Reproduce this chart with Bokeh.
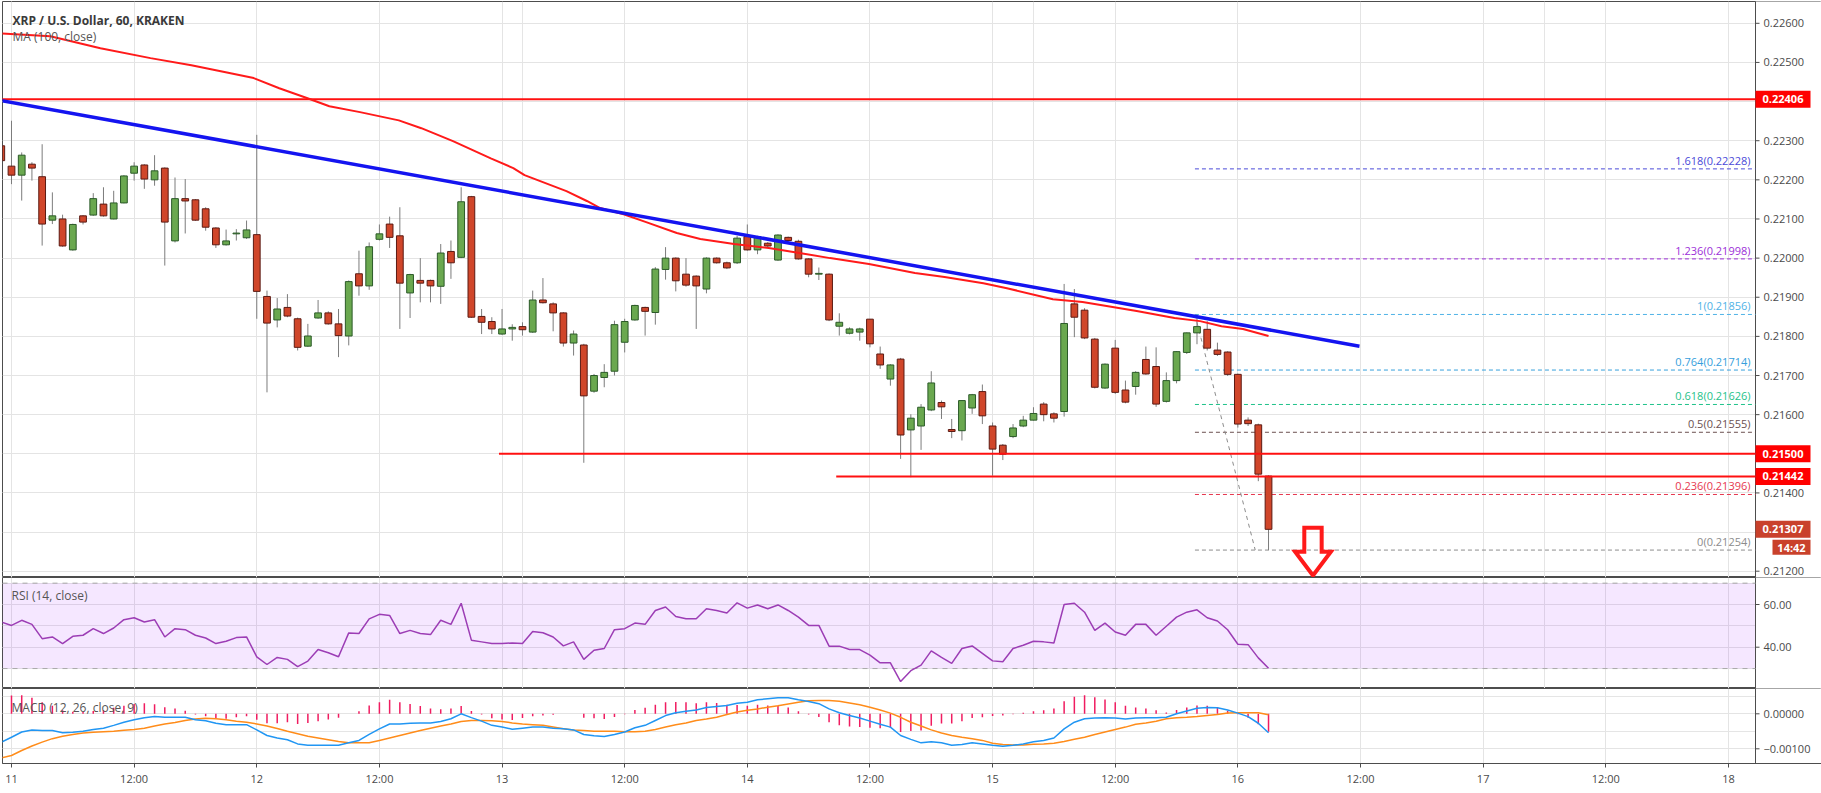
from bokeh.plotting import figure
from bokeh.models import (Range1d, FixedTicker, Grid, BoxAnnotation, ColumnDataSource)
from bokeh.layouts import column
from bokeh.embed import file_html
from bokeh.resources import INLINE
from bokeh.core.properties import value

# ---------------- data (hour index 0 = day 11 00:00, 60-minute candles) ----------------
HOURS = list(range(-1, 124))
OPEN = [0.22287, 0.22235, 0.22212, 0.22240, 0.22208, 0.22097, 0.22100, 0.22021, 0.22108, 0.22110,
        0.22138, 0.22100, 0.22141, 0.22217, 0.22238, 0.22200, 0.22230, 0.22044, 0.22152, 0.22149,
        0.22126, 0.22077, 0.22034, 0.22062, 0.22052, 0.22060, 0.21902, 0.21842, 0.21874, 0.21845,
        0.21775, 0.21847, 0.21860, 0.21832, 0.21801, 0.21960, 0.21929, 0.22048, 0.22087, 0.22057,
        0.21911, 0.21943, 0.21943, 0.21928, 0.22017, 0.22002, 0.22157, 0.21851, 0.21838, 0.21806,
        0.21819, 0.21825, 0.21811, 0.21893, 0.21883, 0.21860, 0.21783, 0.21778, 0.21660, 0.21695,
        0.21711, 0.21785, 0.21842, 0.21874, 0.21861, 0.21971, 0.22000, 0.21959, 0.21954, 0.21921,
        0.22000, 0.21988, 0.21988, 0.22055, 0.22021, 0.22038, 0.21995, 0.22053, 0.22043, 0.21998,
        0.21959, 0.21959, 0.21826, 0.21808, 0.21811, 0.21844, 0.21755, 0.21691, 0.21742, 0.21561,
        0.21571, 0.21612, 0.21631, 0.21562, 0.21559, 0.21617, 0.21659, 0.21571, 0.21522, 0.21544,
        0.21571, 0.21586, 0.21627, 0.21602, 0.21608, 0.21883, 0.21867, 0.21793, 0.21668, 0.21770,
        0.21663, 0.21672, 0.21741, 0.21723, 0.21634, 0.21687, 0.21759, 0.21809, 0.21818, 0.21765,
        0.21760, 0.21703, 0.21586, 0.21574, 0.21443]
HIGH = [0.22296, 0.22351, 0.22270, 0.22245, 0.22291, 0.22168, 0.22111, 0.22088, 0.22110, 0.22166,
        0.22181, 0.22172, 0.22212, 0.22245, 0.22240, 0.22263, 0.22232, 0.22206, 0.22202, 0.22151,
        0.22130, 0.22079, 0.22073, 0.22074, 0.22096, 0.22315, 0.21917, 0.21898, 0.21908, 0.21848,
        0.21832, 0.21893, 0.21864, 0.21870, 0.21943, 0.22019, 0.22040, 0.22086, 0.22106, 0.22130,
        0.21960, 0.22000, 0.21945, 0.22036, 0.22045, 0.22181, 0.22159, 0.21870, 0.21849, 0.21870,
        0.21831, 0.21836, 0.21917, 0.21949, 0.21887, 0.21862, 0.21815, 0.21781, 0.21704, 0.21729,
        0.21840, 0.21845, 0.21881, 0.21876, 0.21977, 0.22028, 0.22002, 0.22000, 0.21956, 0.22002,
        0.22002, 0.21991, 0.22057, 0.22086, 0.22057, 0.22041, 0.22061, 0.22055, 0.22047, 0.22000,
        0.21976, 0.21961, 0.21859, 0.21823, 0.21822, 0.21844, 0.21774, 0.21729, 0.21745, 0.21601,
        0.21627, 0.21711, 0.21636, 0.21589, 0.21637, 0.21653, 0.21677, 0.21580, 0.21525, 0.21576,
        0.21597, 0.21619, 0.21632, 0.21606, 0.21934, 0.21921, 0.21872, 0.21796, 0.21731, 0.21791,
        0.21687, 0.21711, 0.21774, 0.21772, 0.21708, 0.21762, 0.21810, 0.21856, 0.21839, 0.21784,
        0.21762, 0.21705, 0.21593, 0.21577, 0.21445]
LOW = [0.22245, 0.22189, 0.22147, 0.22198, 0.22032, 0.22087, 0.22029, 0.22019, 0.22086, 0.22108,
       0.22106, 0.22099, 0.22140, 0.22198, 0.22177, 0.22185, 0.21981, 0.22040, 0.22063, 0.22095,
       0.22070, 0.22026, 0.22032, 0.22045, 0.22049, 0.21845, 0.21657, 0.21823, 0.21849, 0.21764,
       0.21773, 0.21845, 0.21830, 0.21747, 0.21777, 0.21904, 0.21919, 0.22045, 0.22026, 0.21819,
       0.21847, 0.21887, 0.21887, 0.21883, 0.21947, 0.22000, 0.21847, 0.21806, 0.21806, 0.21804,
       0.21789, 0.21802, 0.21809, 0.21884, 0.21813, 0.21774, 0.21751, 0.21477, 0.21656, 0.21670,
       0.21700, 0.21759, 0.21840, 0.21802, 0.21830, 0.21945, 0.21915, 0.21927, 0.21819, 0.21910,
       0.21986, 0.21972, 0.21985, 0.22019, 0.22010, 0.22028, 0.21993, 0.22043, 0.21996, 0.21951,
       0.21944, 0.21839, 0.21802, 0.21805, 0.21789, 0.21772, 0.21717, 0.21674, 0.21487, 0.21440,
       0.21510, 0.21609, 0.21589, 0.21540, 0.21534, 0.21602, 0.21576, 0.21444, 0.21484, 0.21540,
       0.21568, 0.21585, 0.21583, 0.21580, 0.21595, 0.21798, 0.21793, 0.21667, 0.21666, 0.21653,
       0.21629, 0.21651, 0.21702, 0.21620, 0.21631, 0.21680, 0.21755, 0.21780, 0.21764, 0.21750,
       0.21699, 0.21567, 0.21571, 0.21430, 0.21254]
CLOSE = [0.22249, 0.22212, 0.22263, 0.22230, 0.22087, 0.22108, 0.22031, 0.22086, 0.22092, 0.22152,
         0.22108, 0.22141, 0.22210, 0.22235, 0.22202, 0.22223, 0.22092, 0.22152, 0.22146, 0.22097,
         0.22079, 0.22034, 0.22044, 0.22064, 0.22072, 0.21915, 0.21834, 0.21870, 0.21852, 0.21772,
         0.21801, 0.21860, 0.21832, 0.21802, 0.21940, 0.21929, 0.22029, 0.22062, 0.22053, 0.21936,
         0.21958, 0.21936, 0.21929, 0.22013, 0.21988, 0.22144, 0.21849, 0.21836, 0.21819, 0.21819,
         0.21823, 0.21817, 0.21893, 0.21886, 0.21860, 0.21783, 0.21806, 0.21648, 0.21700, 0.21708,
         0.21830, 0.21838, 0.21879, 0.21864, 0.21972, 0.22000, 0.21942, 0.21931, 0.21929, 0.22000,
         0.21988, 0.21975, 0.22051, 0.22021, 0.22055, 0.22031, 0.22059, 0.22045, 0.21998, 0.21959,
         0.21961, 0.21842, 0.21836, 0.21819, 0.21819, 0.21781, 0.21727, 0.21727, 0.21548, 0.21591,
         0.21619, 0.21681, 0.21620, 0.21557, 0.21636, 0.21651, 0.21597, 0.21512, 0.21499, 0.21566,
         0.21586, 0.21603, 0.21600, 0.21591, 0.21833, 0.21849, 0.21796, 0.21670, 0.21729, 0.21657,
         0.21632, 0.21708, 0.21704, 0.21627, 0.21687, 0.21761, 0.21809, 0.21825, 0.21770, 0.21754,
         0.21703, 0.21576, 0.21577, 0.21448, 0.21307]

MA_HOURS = [-1.08, 3.8, 8.7, 13.6, 17.6, 20.6, 23.7, 26.2, 28.9, 31.1, 34.1, 37.9, 40.1, 43.2,
            46.9, 49.1, 50.2, 54.3, 56.3, 57.6, 59.9, 62.1, 65.1, 67.4, 70.7, 74.1, 77.1, 80.1,
            83.9, 88.4, 91.3, 95.1, 97.4, 101.9, 104.8, 110.1, 113.8, 116.3, 118.4, 120.5, 123]
MA_VALUES = [0.22574, 0.22567, 0.22536, 0.22511, 0.22493, 0.22477, 0.22460, 0.22434, 0.22409,
             0.22388, 0.22373, 0.22352, 0.22332, 0.22299, 0.22255, 0.22230, 0.22212, 0.22171,
             0.22146, 0.22128, 0.22112, 0.22092, 0.22064, 0.22049, 0.22036, 0.22026, 0.22013,
             0.22000, 0.21985, 0.21962, 0.21952, 0.21936, 0.21923, 0.21895, 0.21888, 0.21865,
             0.21847, 0.21839, 0.21826, 0.21819, 0.21801]

TREND_HOURS = [-1.08, 131.9]
TREND_VALUES = [0.22403, 0.21775]

HLINE_LEVELS = [0.22406, 0.21500, 0.21442]
HLINE_START = [-1.0, 47.7, 80.7]

FIB_RATIOS = ["1.618", "1.236", "1", "0.764", "0.618", "0.5", "0.236", "0"]
FIB_LEVELS = [0.22228, 0.21998, 0.21856, 0.21714, 0.21626, 0.21555, 0.21396, 0.21254]
FIB_START = 115.8
FIB_DIAG_HOURS = [115.8, 121.7]
FIB_DIAG_VALUES = [0.21856, 0.21254]

ARROW_HOURS = [126.5, 128.2, 128.2, 129.1, 127.35, 125.6, 126.5]
ARROW_VALUES = [0.21311, 0.21311, 0.21250, 0.21250, 0.21189, 0.21250, 0.21250]

CURRENT_PRICE = 0.21307
BAR_TIME_LEFT = "14:42"

RSI = [51.8, 50.2, 52.6, 50.7, 44.0, 44.8, 41.7, 45.1, 45.6, 48.7, 46.4, 49.0, 52.9, 53.8, 51.8,
       52.9, 44.8, 48.7, 48.2, 45.6, 44.3, 41.7, 42.8, 44.5, 44.8, 35.5, 31.9, 35.2, 34.3, 30.9,
       33.5, 38.9, 37.4, 35.5, 46.7, 46.4, 53.3, 55.4, 54.9, 46.4, 47.9, 46.4, 45.9, 52.6, 50.7,
       60.6, 43.3, 42.5, 41.7, 41.7, 42.0, 41.7, 47.4, 46.8, 44.8, 40.6, 42.5, 34.3, 38.6, 39.4,
       48.2, 48.7, 51.3, 50.7, 57.2, 58.8, 54.4, 53.3, 53.3,
       58.0, 57.2, 56.0, 60.8, 58.3, 59.8, 58.0, 59.8, 57.2, 54.1, 50.2, 50.2, 40.5, 40.5, 38.9,
       38.9, 36.3, 32.7, 32.7, 23.9, 29.0, 31.6, 38.3, 35.2, 32.4, 39.4, 40.6, 37.1, 33.6, 33.2,
       39.4, 40.9, 42.8, 42.5, 42.0, 60.0, 60.6, 56.4, 47.9, 51.3, 47.1, 45.6, 50.7, 50.7, 45.6,
       49.8, 54.1, 56.4, 57.5, 53.8, 52.3, 48.2, 41.4, 41.2, 35.0, 30.1]

MACD = [-0.00081, -0.00067, -0.00052, -0.00046, -0.00048, -0.00048, -0.00054, -0.00053, -0.00050,
        -0.00045, -0.00041, -0.00033, -0.00024, -0.00017, -0.00011, -0.00008, -0.00010, -0.00010,
        -0.00010, -0.00017, -0.00020, -0.00027, -0.00031, -0.00031, -0.00031, -0.00046, -0.00062,
        -0.00069, -0.00074, -0.00086, -0.00090, -0.00090, -0.00090, -0.00090, -0.00083, -0.00076,
        -0.00059, -0.00043, -0.00029, -0.00029, -0.00027, -0.00026, -0.00026, -0.00022, -0.00014,
        0.00000, -0.00011, -0.00021, -0.00033, -0.00038, -0.00044, -0.00041, -0.00038, -0.00038,
        -0.00041, -0.00043, -0.00046, -0.00059, -0.00063, -0.00065, -0.00059, -0.00052, -0.00040,
        -0.00033, -0.00019, -0.00005, 0.00003, 0.00007, 0.00011,
        0.00018, 0.00021, 0.00024, 0.00030, 0.00033, 0.00040, 0.00043, 0.00046, 0.00046, 0.00040,
        0.00035, 0.00029, 0.00014, 0.00003, -0.00005, -0.00012, -0.00021, -0.00030, -0.00038,
        -0.00062, -0.00073, -0.00083, -0.00080, -0.00083, -0.00090, -0.00088, -0.00083, -0.00086,
        -0.00090, -0.00093, -0.00090, -0.00086, -0.00080, -0.00076, -0.00069, -0.00043, -0.00024,
        -0.00014, -0.00012, -0.00011, -0.00012, -0.00015, -0.00012, -0.00011, -0.00011, -0.00010,
        0.00000, 0.00008, 0.00016, 0.00018, 0.00017, 0.00011, 0.00002, -0.00008, -0.00027, -0.00054]
SIGNAL = [-0.00126, -0.00119, -0.00105, -0.00092, -0.00081, -0.00071, -0.00064, -0.00059, -0.00055,
          -0.00053, -0.00051, -0.00050, -0.00047, -0.00045, -0.00041, -0.00035, -0.00029, -0.00025,
          -0.00019, -0.00015, -0.00013, -0.00014, -0.00017, -0.00021, -0.00024, -0.00029, -0.00035,
          -0.00042, -0.00050, -0.00057, -0.00064, -0.00069, -0.00074, -0.00079, -0.00083, -0.00083,
          -0.00083, -0.00076, -0.00069, -0.00062, -0.00055, -0.00048, -0.00041, -0.00035, -0.00029,
          -0.00022, -0.00019, -0.00019, -0.00020, -0.00022, -0.00026, -0.00029, -0.00031, -0.00033,
          -0.00038, -0.00043, -0.00046, -0.00048, -0.00050, -0.00050, -0.00050, -0.00051, -0.00051,
          -0.00050, -0.00045, -0.00038, -0.00031, -0.00026, -0.00019,
          -0.00015, -0.00010, -0.00002, 0.00005, 0.00010, 0.00014, 0.00019, 0.00023, 0.00028,
          0.00033, 0.00037, 0.00038, 0.00038, 0.00036, 0.00031, 0.00026, 0.00019, 0.00011, 0.00002,
          -0.00010, -0.00024, -0.00035, -0.00046, -0.00055, -0.00062, -0.00067, -0.00071, -0.00076,
          -0.00084, -0.00088, -0.00089, -0.00089, -0.00087, -0.00086, -0.00084, -0.00079, -0.00073,
          -0.00067, -0.00059, -0.00052, -0.00045, -0.00038, -0.00030, -0.00026, -0.00021, -0.00014,
          -0.00011, -0.00010, -0.00008, -0.00005, -0.00002, 0.00002, 0.00003, 0.00003, 0.00003, -0.00003]
HIST = [0.00045, 0.00052, 0.00053, 0.00046, 0.00033, 0.00023, 0.00010, 0.00006, 0.00005, 0.00008,
        0.00010, 0.00017, 0.00023, 0.00028, 0.00030, 0.00027, 0.00019, 0.00015, 0.00009, -0.00002,
        -0.00007, -0.00013, -0.00014, -0.00010, -0.00007, -0.00017, -0.00027, -0.00027, -0.00024,
        -0.00029, -0.00026, -0.00021, -0.00016, -0.00011, 0.00000, 0.00007, 0.00024, 0.00033,
        0.00040, 0.00033, 0.00028, 0.00022, 0.00015, 0.00013, 0.00015, 0.00022, 0.00008, -0.00002,
        -0.00013, -0.00016, -0.00018, -0.00012, -0.00007, -0.00005, -0.00003, 0.00000, 0.00000,
        -0.00011, -0.00013, -0.00015, -0.00009, -0.00001, 0.00011, 0.00017, 0.00026, 0.00033,
        0.00034, 0.00033, 0.00030,
        0.00033, 0.00031, 0.00026, 0.00025, 0.00023, 0.00026, 0.00024, 0.00023, 0.00018, 0.00007,
        -0.00002, -0.00009, -0.00024, -0.00033, -0.00036, -0.00038, -0.00040, -0.00041, -0.00040,
        -0.00052, -0.00049, -0.00048, -0.00034, -0.00028, -0.00028, -0.00021, -0.00012, -0.00010,
        -0.00006, -0.00005, -0.00001, 0.00003, 0.00007, 0.00010, 0.00015, 0.00036, 0.00049, 0.00053,
        0.00047, 0.00041, 0.00033, 0.00023, 0.00018, 0.00015, 0.00010, 0.00004, 0.00011, 0.00018,
        0.00024, 0.00023, 0.00019, 0.00009, -0.00001, -0.00011, -0.00030, -0.00051]

PRICE_TICKS = [0.212, 0.213, 0.214, 0.215, 0.216, 0.217, 0.218, 0.219, 0.220, 0.221, 0.222,
               0.223, 0.224, 0.225, 0.226]
RSI_TICKS = [40, 60]
RSI_TICK_LABELS = ["40.00", "60.00"]
MACD_TICKS = [-0.001, 0.0]
MACD_TICK_LABELS = ["\u22120.00100", "0.00000"]
TIME_TICKS = [0, 12, 24, 36, 48, 60, 72, 84, 96, 108, 120, 132, 144, 156, 168]
TIME_LABELS = ["11", "12:00", "12", "12:00", "13", "12:00", "14", "12:00", "15", "12:00",
               "16", "12:00", "17", "12:00", "18"]

# ---------------- styling / layout ----------------
FONT = "Open Sans"
TXT = "#4a4a4a"
GRID = "#e4e4e4"
FRAME = "#4d4d4d"
UP_FILL, UP_LINE = "#6aa84f", "#2b5a28"
DN_FILL, DN_LINE = "#d0462a", "#5b1a13"
WICK = "#7c7c7c"
FIB_COLORS = ["#4a4ad8", "#9c2fd8", "#4fb2e6", "#36a0dc", "#1fc28a", "#6b5050", "#e6384f", "#8c8c8c"]

FW = 1819                      # frame spans chart + price-scale column
X0, AXIS_X = -0.88, 170.65     # chart area: full x 2 .. 1755
KPP = (AXIS_X - X0) / 1753.0
XF = X0 + FW * KPP
Y0, Y1 = 0.211839, 0.226557
R0, R1 = 20.66, 72.65
M0, M1 = -0.00142, 0.000723
PPP = (Y1 - Y0) / 576.0

def mx(px):
    return X0 + (px - 2) * KPP

def my(py):
    return Y1 - (py - 1) * PPP

def ry(py):
    return R1 - (py - 577) * (R1 - R0) / 111.0

def macd_y(py):
    return M1 - (py - 688) * (M1 - M0) / 75.0

xr = Range1d(X0, XF)

def base_fig(fh, y0, y1, ticks, labels, top=0, bottom=0, xaxis=False):
    p = figure(frame_width=FW, frame_height=fh, x_range=xr, y_range=Range1d(y0, y1),
               y_axis_location=None, x_axis_location="below" if xaxis else None,
               toolbar_location=None, output_backend="svg",
               min_border_left=2, min_border_right=0, min_border_top=top,
               min_border_bottom=bottom)
    p.background_fill_color = "white"
    p.border_fill_color = "white"
    p.outline_line_color = FRAME
    p.outline_line_width = 1
    if not xaxis:
        p.add_layout(Grid(dimension=0, ticker=FixedTicker(ticks=TIME_TICKS), grid_line_color=GRID))
    p.add_layout(Grid(dimension=1, ticker=FixedTicker(ticks=ticks), grid_line_color=GRID))
    pad = (y1 - y0)
    # price-scale column
    p.quad(left=[AXIS_X], right=[XF + 1], bottom=[y0 - pad], top=[y1 + pad],
           fill_color="white", line_color=None)
    p.segment(x0=[AXIS_X], x1=[AXIS_X], y0=[y0 - pad], y1=[y1 + pad], line_color=FRAME,
              line_width=1)
    n = len(ticks)
    p.segment(x0=[AXIS_X] * n, x1=[AXIS_X + 4 * KPP] * n, y0=ticks, y1=ticks,
              line_color=FRAME, line_width=1)
    p.text(x=[AXIS_X + 8 * KPP] * n, y=ticks, text=labels, text_align="left",
           text_baseline="middle", text_color=TXT, text_font=value(FONT),
           text_font_size="11px")
    return p

# ---------------- main price pane ----------------
p = base_fig(576, Y0, Y1, PRICE_TICKS, [f"{t:.5f}" for t in PRICE_TICKS], top=1)

# fib levels
nf = len(FIB_LEVELS)
p.segment(x0=[FIB_START] * nf, x1=[AXIS_X] * nf, y0=FIB_LEVELS, y1=FIB_LEVELS,
          line_color=FIB_COLORS, line_width=1, line_dash="4 3")
p.line(FIB_DIAG_HOURS, FIB_DIAG_VALUES, line_color="#8c8c8c", line_width=1, line_dash="4 4")
p.text(x=[mx(1750)] * nf, y=[v + PPP for v in FIB_LEVELS],
       text=[f"{r}({v:.5f})" for r, v in zip(FIB_RATIOS, FIB_LEVELS)],
       text_align="right", text_baseline="bottom", text_color=FIB_COLORS,
       text_font=value(FONT), text_font_size="11px")

# candles
up = [c >= o for o, c in zip(OPEN, CLOSE)]
src = ColumnDataSource(dict(
    x=HOURS, high=HIGH, low=LOW,
    top=[max(o, c) for o, c in zip(OPEN, CLOSE)],
    bottom=[min(o, c) for o, c in zip(OPEN, CLOSE)],
    fill=[UP_FILL if u else DN_FILL for u in up],
    line=[UP_LINE if u else DN_LINE for u in up]))
p.segment(x0="x", x1="x", y0="low", y1="high", source=src, line_color=WICK, line_width=1)
p.vbar(x="x", width=0.66, top="top", bottom="bottom", source=src,
       fill_color="fill", line_color="line", line_width=1)

# horizontal support / resistance lines
p.segment(x0=HLINE_START, x1=[AXIS_X] * 3, y0=HLINE_LEVELS, y1=HLINE_LEVELS,
          line_color="#ff1010", line_width=2)
# MA(100)
p.line(MA_HOURS, MA_VALUES, line_color="#ff1a1a", line_width=2)
# trend line
p.line(TREND_HOURS, TREND_VALUES, line_color="#1414f0", line_width=3.5)
# arrow
p.patch(ARROW_HOURS, ARROW_VALUES, fill_alpha=0, line_color="#ff1a1a", line_width=4,
        line_join="miter")

# header
p.text(x=[mx(12)], y=[my(20)], text=["XRP / U.S. Dollar, 60, KRAKEN"], text_baseline="middle",
       text_color="#3a3a3a", text_font=value(FONT), text_font_size="12px",
       text_font_style="bold")
p.text(x=[mx(12)], y=[my(36)], text=["MA (100, close)"], text_baseline="middle",
       text_color="#555555", text_font=value(FONT), text_font_size="12px")

# price tags on the price scale
tag_text = [f"{lv:.5f}" for lv in HLINE_LEVELS] + [f"{CURRENT_PRICE:.5f}", BAR_TIME_LEFT]
tag_y = HLINE_LEVELS + [CURRENT_PRICE, CURRENT_PRICE - 18 * PPP]
tag_left = [AXIS_X] * 4 + [AXIS_X + 17 * KPP]
tag_right = [AXIS_X + 55 * KPP] * 5
tag_h = [8.5 * PPP] * 4 + [7.5 * PPP]
tag_col = ["#ff0000"] * 3 + ["#c9412b", "#c9412b"]
p.quad(left=tag_left, right=tag_right, bottom=[y - h for y, h in zip(tag_y, tag_h)],
       top=[y + h for y, h in zip(tag_y, tag_h)], fill_color=tag_col, line_color=None)
p.text(x=[(l + r) / 2 for l, r in zip(tag_left, tag_right)], y=tag_y, text=tag_text,
       text_align="center", text_baseline="middle", text_color="white",
       text_font=value(FONT), text_font_size="11px", text_font_style="bold")

# ---------------- RSI pane ----------------
pr = base_fig(111, R0, R1, RSI_TICKS, RSI_TICK_LABELS)
pr.add_layout(BoxAnnotation(bottom=30, top=70, right=AXIS_X, fill_color="#9915ff",
                            fill_alpha=0.1, line_color=None, level="underlay"))
for lv in (30, 70):
    pr.segment(x0=[X0], x1=[AXIS_X], y0=[lv], y1=[lv], line_color="#a8a8a8",
               line_dash="5 5", line_width=1)
pr.line(HOURS, RSI, line_color="#9c3db5", line_width=1.5)
pr.text(x=[mx(11)], y=[ry(595)], text=["RSI (14, close)"], text_baseline="middle",
        text_color="#555555", text_font=value(FONT), text_font_size="12px")

# ---------------- MACD pane ----------------
pm = base_fig(75, M0, M1, MACD_TICKS, MACD_TICK_LABELS, bottom=30, xaxis=True)
xa = pm.xaxis[0]
xa.ticker = FixedTicker(ticks=TIME_TICKS)
xa.major_label_overrides = {t: l for t, l in zip(TIME_TICKS, TIME_LABELS)}
xa.major_label_text_font = FONT
xa.major_label_text_font_size = "11px"
xa.major_label_text_color = TXT
xa.axis_line_color = FRAME
xa.major_tick_line_color = FRAME
xa.major_tick_out = 4
xa.major_tick_in = 0
xa.minor_tick_line_color = None
xa.major_label_standoff = 3
pm.xgrid.grid_line_color = GRID
pm.segment(x0=HOURS, x1=HOURS, y0=[0] * len(HOURS), y1=HIST, line_color="#f01c60",
           line_width=1.5)
pm.line(HOURS, SIGNAL, line_color="#ff8c1a", line_width=1.5)
pm.line(HOURS, MACD, line_color="#2196f3", line_width=1.5)
pm.text(x=[mx(11)], y=[macd_y(707)], text=["MACD (12, 26, close, 9)"], text_baseline="middle",
        text_color="#555555", text_font=value(FONT), text_font_size="12px")

layout = column(p, pr, pm, spacing=0)
open("out.html", "w").write(file_html(layout, INLINE))
